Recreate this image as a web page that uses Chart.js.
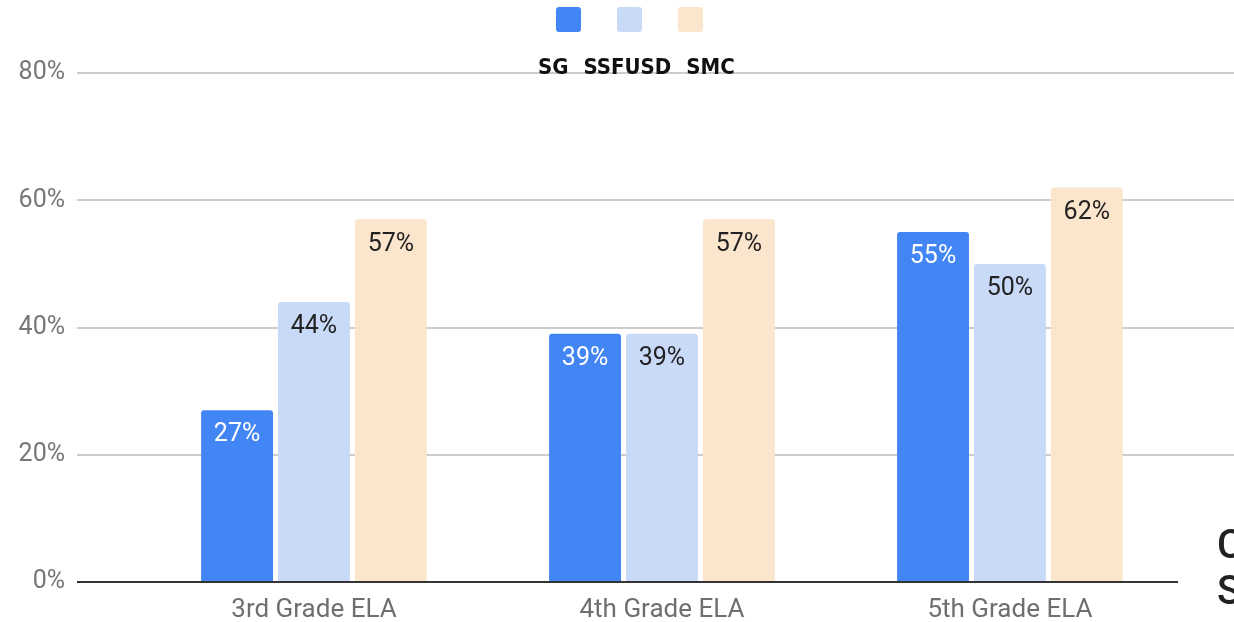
<!DOCTYPE html>
<html>
<head>
<meta charset="utf-8">
<script src="https://cdn.jsdelivr.net/npm/chart.js@4"></script>
<style>
  body { margin: 0; background: #fff; overflow: hidden; }
  .wrap { position: relative; width: 1234px; height: 622px; overflow: hidden; }
  .boxes { position: absolute; left: 556px; top: 7px; display: flex; gap: 36px; }
  .boxes span { width: 25px; height: 25px; border-radius: 3px; display: block; }
  .names { position: absolute; left: 538px; top: 54px; display: flex; gap: 15px;
           font: bold 22px "DejaVu Sans Condensed", "DejaVu Sans", sans-serif; color: #111; }
  .side { position: absolute; left: 1217px; top: 522px; font: 500 40px Roboto, sans-serif;
          line-height: 46px; color: #222; white-space: pre; }
</style>
</head>
<body>
<div class="wrap">
  <canvas id="myChart" width="1234" height="622"></canvas>
  <div class="boxes" id="boxes"></div>
  <div class="names" id="names"></div>
  <div class="side">C
S</div>
</div>
<script>
const categories = ['3rd Grade ELA', '4th Grade ELA', '5th Grade ELA'];
const series = ['SG', 'SSFUSD', 'SMC'];
const sg = [27, 39, 55];
const ssfusd = [44, 39, 50];
const smc = [57, 57, 62];
const y_ticks = [0, 20, 40, 60, 80];
const colors = ['#4285f4', '#c9daf8', '#fce5cd'];

// ---------- legend ----------
const boxes = document.getElementById('boxes');
const names = document.getElementById('names');
series.forEach((s, i) => {
    const b = document.createElement('span');
    b.style.backgroundColor = colors[i];
    boxes.appendChild(b);
    const t = document.createElement('span');
    t.textContent = s;
    names.appendChild(t);
});

function points(values) {
    return values.map((v, i) => ({ x: i, y: v }));
}

// value labels inside the top of each bar
const bar_labels = {
    id: 'bar_labels',
    afterDatasetsDraw(chart) {
        const ctx = chart.ctx;
        ctx.save();
        ctx.font = '25px Roboto';
        ctx.textAlign = 'center';
        ctx.textBaseline = 'middle';
        chart.data.datasets.forEach((ds, di) => {
            chart.getDatasetMeta(di).data.forEach((el, i) => {
                ctx.fillStyle = di === 0 ? '#ffffff' : '#222222';
                ctx.fillText(ds.data[i].y + '%', el.x, el.y + 25);
            });
        });
        ctx.restore();
    }
};

// grid lines run on to the right edge, the baseline does not
const extend_grid = {
    id: 'extend_grid',
    beforeDatasetsDraw(chart) {
        const ctx = chart.ctx;
        const y = chart.scales.y;
        ctx.save();
        ctx.strokeStyle = '#cccccc';
        ctx.lineWidth = 2;
        y.ticks.forEach(t => {
            if (t.value === 0) return;
            const py = Math.round(y.getPixelForValue(t.value));
            ctx.beginPath();
            ctx.moveTo(chart.chartArea.right, py);
            ctx.lineTo(chart.width, py);
            ctx.stroke();
        });
        ctx.restore();
    }
};

const data = {
    datasets: [sg, ssfusd, smc].map((vals, i) => ({
        label: series[i],
        data: points(vals),
        backgroundColor: colors[i],
        borderRadius: { topLeft: 3, topRight: 3 },
        borderSkipped: 'bottom',
        categoryPercentage: 0.663,
        barPercentage: 0.935,
    }))
};

const config = {
    type: 'bar',
    data: data,
    options: {
        responsive: false,
        animation: false,
        layout: { padding: { top: 73, right: 56, left: 0, bottom: 0 } },
        plugins: { legend: { display: false }, tooltip: { enabled: false } },
        scales: {
            x: {
                type: 'linear',
                offset: false,
                min: -0.681,
                max: 2.483,
                afterBuildTicks: (s) => { s.ticks = categories.map((c, i) => ({ value: i })); },
                afterFit: (s) => { s.height = 40; },
                grid: { display: false },
                border: { display: false },
                ticks: {
                    callback: (v) => categories[v],
                    color: '#6f6f6f',
                    font: { family: 'Roboto', size: 26 },
                    padding: 5,
                    maxRotation: 0,
                    autoSkip: false,
                },
            },
            y: {
                min: 0,
                max: 80,
                afterBuildTicks: (s) => { s.ticks = y_ticks.map(v => ({ value: v })); },
                afterFit: (s) => { s.width = 77; },
                grid: {
                    color: (c) => c.tick.value === 0 ? '#333333' : '#cccccc',
                    lineWidth: 2,
                    drawTicks: false,
                },
                border: { display: false },
                ticks: {
                    callback: (v) => v + '%',
                    color: '#777777',
                    font: { family: 'Roboto', size: 25 },
                    padding: 12,
                },
            },
        },
    },
    plugins: [bar_labels, extend_grid],
};

const myChart = new Chart(document.getElementById('myChart'), config);
</script>
</body>
</html>
